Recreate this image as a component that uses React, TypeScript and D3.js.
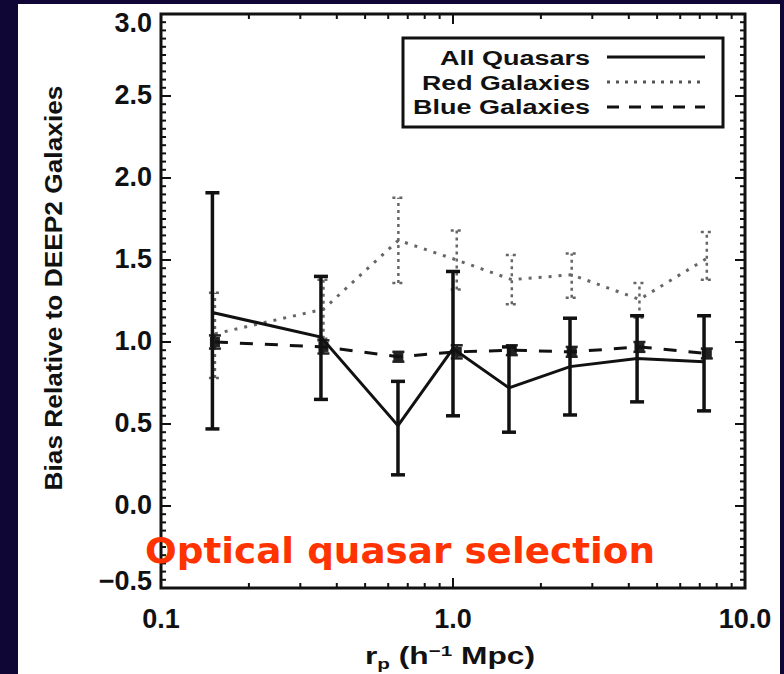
import React from 'react';
import * as d3 from 'd3';

const W = 784;
const H = 674;
const frame = { left: 161, right: 745, top: 14, bottom: 588 };

// quasar bins
const rpQuasar = [0.15, 0.353, 0.648, 1.0, 1.555, 2.516, 4.27, 7.24];
const biasQuasar = [1.18, 1.03, 0.49, 0.96, 0.72, 0.85, 0.9, 0.88];
const quasarLow = [0.47, 0.65, 0.19, 0.55, 0.45, 0.555, 0.635, 0.58];
const quasarHigh = [1.91, 1.4, 0.76, 1.43, 0.97, 1.145, 1.16, 1.16];

// galaxy bins
const rpGalaxy = [0.153, 0.36, 0.65, 1.03, 1.59, 2.55, 4.35, 7.4];
const biasRed = [1.05, 1.2, 1.62, 1.5, 1.38, 1.41, 1.26, 1.51];
const redLow = [0.78, 1.02, 1.36, 1.32, 1.23, 1.27, 1.15, 1.38];
const redHigh = [1.3, 1.38, 1.88, 1.68, 1.53, 1.54, 1.36, 1.67];
const biasBlue = [1.0, 0.97, 0.91, 0.94, 0.95, 0.94, 0.97, 0.93];
const blueErr = [0.04, 0.04, 0.03, 0.04, 0.03, 0.03, 0.03, 0.03];

const yTicks = [-0.5, 0, 0.5, 1, 1.5, 2, 2.5, 3];
const yTickLabels = ['\u22120.5', '0.0', '0.5', '1.0', '1.5', '2.0', '2.5', '3.0'];
const xTicks = [0.1, 1, 10];
const xTickLabels = ['0.1', '1.0', '10.0'];
const legendNames = ['All Quasars', 'Red Galaxies', 'Blue Galaxies'];
const legendDash = ['none', '3,6', '12,10'];
const legendWidths = [150, 168, 177];

const ink = '#111';
const font = '"Liberation Sans", Arial, sans-serif';

const x = d3.scaleLog().domain([0.1, 10]).range([frame.left, frame.right]);
const y = d3.scaleLinear().domain([-0.5, 3]).range([frame.bottom, frame.top]);

const line = d3
	.line<number>()
	.x((d, i) => x(rpQuasar[i]))
	.y((d) => y(d));
const galaxyLine = d3
	.line<number>()
	.x((d, i) => x(rpGalaxy[i]))
	.y((d) => y(d));

const ErrorBar = ({ cx, lo, hi, cap, ...style }) => (
	<g {...style}>
		<line x1={cx} x2={cx} y1={y(lo)} y2={y(hi)} />
		<line x1={cx - cap} x2={cx + cap} y1={y(lo)} y2={y(lo)} />
		<line x1={cx - cap} x2={cx + cap} y1={y(hi)} y2={y(hi)} />
	</g>
);

const App = () => {
	const yMinor = y.ticks(70);
	const xMinor = x.ticks();

	return (
		<svg width={W} height={H} style={{ position: 'absolute', left: 0, top: 0 }}>
			<rect width={W} height={H} fill="#0f0636" />
			<rect x={18} y={4} width={762} height={H - 4} fill="#fff" />

			{/* frame ticks */}
			<g stroke={ink} strokeWidth={2}>
				{yMinor.map((t) => {
					const major = yTicks.some((v) => Math.abs(v - t) < 1e-6);
					const len = major ? 10 : 5;
					return (
						<g key={`y${ t }`}>
							<line x1={frame.left} x2={frame.left + len} y1={y(t)} y2={y(t)} />
							<line x1={frame.right} x2={frame.right - len} y1={y(t)} y2={y(t)} />
						</g>
					);
				})}
				{xMinor.map((t) => {
					const major = xTicks.some((v) => Math.abs(v - t) < 1e-6);
					const len = major ? 10 : 5;
					return (
						<g key={`x${ t }`}>
							<line x1={x(t)} x2={x(t)} y1={frame.bottom} y2={frame.bottom - len} />
							<line x1={x(t)} x2={x(t)} y1={frame.top} y2={frame.top + len} />
						</g>
					);
				})}
			</g>
			<rect
				x={frame.left}
				y={frame.top}
				width={frame.right - frame.left}
				height={frame.bottom - frame.top}
				fill="none"
				stroke={ink}
				strokeWidth={3}
			/>

			{/* tick labels */}
			<g fontFamily={font} fontWeight="bold" fontSize={27} fill={ink}>
				{yTicks.map((t, i) => (
					<text
						key={t}
						x={152}
						y={Math.min(Math.max(y(t) - 2, 22), 580)}
						dy="0.36em"
						textAnchor="end"
					>
						{yTickLabels[i]}
					</text>
				))}
				{xTicks.map((t, i) => (
					<text key={t} x={x(t)} y={628} textAnchor="middle">
						{xTickLabels[i]}
					</text>
				))}
			</g>

			{/* axis titles */}
			<text
				transform="translate(62,288) rotate(-90)"
				fontFamily={font}
				fontWeight="bold"
				fontSize={23}
				fill={ink}
				textAnchor="middle"
				textLength={405}
				lengthAdjust="spacingAndGlyphs"
			>
				Bias Relative to DEEP2 Galaxies
			</text>
			<text
				x={365}
				y={664}
				fontFamily={font}
				fontWeight="bold"
				fontSize={23}
				fill={ink}
				textLength={170}
				lengthAdjust="spacingAndGlyphs"
			>
				r<tspan fontSize={15} dy={5}>p</tspan>
				<tspan dy={-5}>{' (h'}</tspan>
				<tspan fontSize={15} dy={-8}>{'\u22121'}</tspan>
				<tspan dy={8}>{' Mpc)'}</tspan>
			</text>

			{/* red galaxies */}
			{biasRed.map((v, i) => (
				<ErrorBar
					key={`r${ i }`}
					cx={x(rpGalaxy[i])}
					lo={redLow[i]}
					hi={redHigh[i]}
					cap={6}
					stroke="#666"
					strokeWidth={2.5}
					strokeDasharray="3,4"
				/>
			))}
			<path d={galaxyLine(biasRed)} fill="none" stroke="#666" strokeWidth={3} strokeDasharray="3,7" />

			{/* blue galaxies */}
			{biasBlue.map((v, i) => (
				<g key={`b${ i }`}>
					<ErrorBar
						cx={x(rpGalaxy[i])}
						lo={v - blueErr[i]}
						hi={v + blueErr[i]}
						cap={6}
						stroke="#222"
						strokeWidth={2.5}
					/>
					<rect x={x(rpGalaxy[i]) - 5} y={y(v) - 5} width={10} height={10} fill="#222" />
				</g>
			))}
			<path d={galaxyLine(biasBlue)} fill="none" stroke="#111" strokeWidth={3} strokeDasharray="13,12" />

			{/* quasars */}
			{biasQuasar.map((v, i) => (
				<ErrorBar
					key={`q${ i }`}
					cx={x(rpQuasar[i])}
					lo={quasarLow[i]}
					hi={quasarHigh[i]}
					cap={7}
					stroke={ink}
					strokeWidth={3.5}
				/>
			))}
			<path d={line(biasQuasar)} fill="none" stroke={ink} strokeWidth={3} />

			{/* legend */}
			<rect x={403} y={38} width={320} height={89} fill="#fff" stroke={ink} strokeWidth={3} />
			{legendNames.map((name, i) => (
				<g key={name}>
					<text
						x={590 - legendWidths[i]}
						y={65 + i * 24.5}
						fontFamily={font}
						fontWeight="bold"
						fontSize={20}
						fill={ink}
						textLength={legendWidths[i]}
						lengthAdjust="spacingAndGlyphs"
					>
						{name}
					</text>
					<line
						x1={607}
						x2={705}
						y1={57 + i * 25}
						y2={57 + i * 25}
						stroke={i === 1 ? '#555' : ink}
						strokeWidth={3}
						strokeDasharray={legendDash[i]}
					/>
				</g>
			))}

			<text
				x={145}
				y={563}
				fontFamily='"DejaVu Sans", sans-serif'
				fontWeight="bold"
				fontSize={36}
				fill="#ff3300"
				textLength={510}
				lengthAdjust="spacingAndGlyphs"
			>
				Optical quasar selection
			</text>
		</svg>
	);
};

export default App;
